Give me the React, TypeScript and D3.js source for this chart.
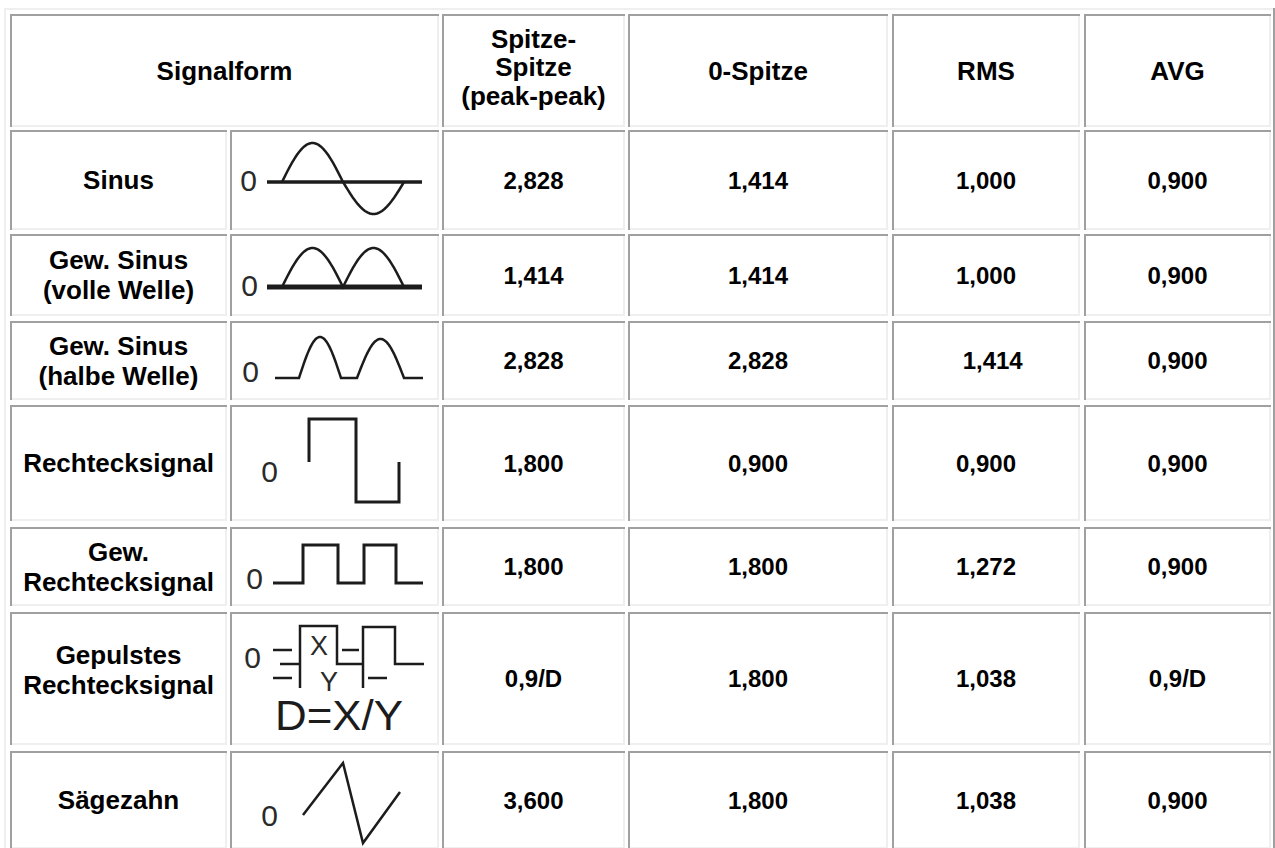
import React from "react";
import * as d3 from "d3";

// ---------- data ----------
const headerLabels = ["Signalform", "Spitze-\nSpitze\n(peak-peak)", "0-Spitze", "RMS", "AVG"];
const signalNames = [
  "Sinus",
  "Gew. Sinus\n(volle Welle)",
  "Gew. Sinus\n(halbe Welle)",
  "Rechtecksignal",
  "Gew.\nRechtecksignal",
  "Gepulstes\nRechtecksignal",
  "Sägezahn",
];
const peakPeak = ["2,828", "1,414", "2,828", "1,800", "1,800", "0,9/D", "3,600"];
const zeroPeak = ["1,414", "1,414", "2,828", "0,900", "1,800", "1,800", "1,800"];
const rmsValues = ["1,000", "1,000", "\u00a0\u00a01,414", "0,900", "1,272", "1,038", "1,038"];
const avgValues = ["0,900", "0,900", "0,900", "0,900", "0,900", "0,9/D", "0,900"];

// ---------- layout ----------
const W = 1275;
const H = 848;
const COLS: [number, number][] = [
  [10, 227], [230, 439], [442, 625], [628, 888], [892, 1080], [1084, 1271],
];
const ROWS: [number, number][] = [
  [14, 127], [130, 230], [234, 316], [321, 400], [405, 521], [527, 606], [612, 745], [751, 849],
];
const DARK = "#a0a0a0";
const LIGHT = "#efefef";
const FONT = "'Liberation Sans', Arial, Helvetica, sans-serif";
const INK = "#1c1c1c";

function Cell({ c }: { c: [number, number, number, number] }) {
  const [x0, y0, x1, y1] = c;
  const w = x1 - x0;
  const h = y1 - y0;
  return (
    <g>
      <rect x={x0} y={y0} width={w} height={h} fill="#fff" />
      <rect x={x0} y={y1 - 2} width={w} height={2} fill={LIGHT} />
      <rect x={x1 - 2} y={y0} width={2} height={h} fill={LIGHT} />
      <rect x={x0} y={y0} width={w} height={2} fill={DARK} />
      <rect x={x0} y={y0} width={2} height={h} fill={DARK} />
    </g>
  );
}

function Lines({ cx, cy, text, fs, lh, weight = "bold" }: { cx: number; cy: number; text: string; fs: number; lh: number; weight?: string }) {
  const lines = text.split("\n");
  const n = lines.length;
  return (
    <g>
      {lines.map((l, i) => (
        <text
          key={i}
          x={cx}
          y={cy + (i - (n - 1) / 2) * lh + 0.358 * fs}
          textAnchor="middle"
          fontFamily={FONT}
          fontSize={fs}
          fontWeight={weight}
          fill="#000"
          style={{ whiteSpace: "pre" }}
        >
          {l}
        </text>
      ))}
    </g>
  );
}

const line = d3.line<[number, number]>().x((d) => d[0]).y((d) => d[1]);
const ts = d3.range(0, 1.0001, 0.02);

function arch(a: number, b: number, base: number, h: number): [number, number][] {
  const sx = d3.scaleLinear().domain([0, 1]).range([a, b]);
  return ts.map((t) => [sx(t), base - h * Math.sin(Math.PI * t)] as [number, number]);
}

function Zero({ cx, base }: { cx: number; base: number }) {
  return (
    <text x={cx} y={base} textAnchor="middle" fontFamily={FONT} fontSize={30} fill="#2a2a2a">
      0
    </text>
  );
}

function IconSinus() {
  const sx = d3.scaleLinear().domain([0, 1]).range([282, 404]);
  const pts = ts.map((t) => {
    const s = Math.sin(2 * Math.PI * t);
    return [sx(t), 182 - (s >= 0 ? 39 : 32) * s] as [number, number];
  });
  return (
    <g>
      <Zero cx={248.5} base={191} />
      <line x1={267} x2={422} y1={182} y2={182} stroke={INK} strokeWidth={3.5} />
      <path d={line(pts)!} fill="none" stroke={INK} strokeWidth={2.5} />
    </g>
  );
}

function IconFull() {
  const sx = d3.scaleLinear().domain([0, 1]).range([282, 404]);
  const pts = ts.map((t) => [sx(t), 287 - 39 * Math.abs(Math.sin(2 * Math.PI * t))] as [number, number]);
  return (
    <g>
      <Zero cx={249.5} base={296} />
      <line x1={267} x2={422} y1={287} y2={287} stroke={INK} strokeWidth={5} />
      <path d={line(pts)!} fill="none" stroke={INK} strokeWidth={2.5} />
    </g>
  );
}

function IconHalf() {
  const pts: [number, number][] = [
    [275, 378],
    ...arch(299, 341, 378, 41),
    [357, 378],
    ...arch(357, 404, 378, 39),
    [423, 378],
  ];
  return (
    <g>
      <Zero cx={250.5} base={382} />
      <path d={line(pts)!} fill="none" stroke={INK} strokeWidth={2.5} />
    </g>
  );
}

function IconRect() {
  const pts: [number, number][] = [
    [309, 462], [309, 419], [356, 419], [356, 502], [399, 502], [399, 462],
  ];
  return (
    <g>
      <Zero cx={269.5} base={482} />
      <path d={line(pts)!} fill="none" stroke={INK} strokeWidth={3} />
    </g>
  );
}

function IconRectFull() {
  const pts: [number, number][] = [
    [273, 583], [303, 583], [303, 545], [338, 545], [338, 583], [364, 583], [364, 545], [396, 545], [396, 583], [423, 583],
  ];
  return (
    <g>
      <Zero cx={254.5} base={589} />
      <path d={line(pts)!} fill="none" stroke={INK} strokeWidth={3} />
    </g>
  );
}

function IconPulse() {
  const segs: [number, number][][] = [
    [[273, 650], [292, 650]],
    [[280, 664], [300, 664]],
    [[273, 678], [292, 678]],
    [[300, 688], [300, 626], [337, 626], [337, 664], [363, 664]],
    [[342, 650], [359, 650]],
    [[363, 688], [363, 627], [395, 627], [395, 664], [424, 664]],
    [[368, 678], [387, 678]],
  ];
  return (
    <g>
      <Zero cx={252.5} base={668} />
      {segs.map((s, i) => (
        <path key={i} d={line(s)!} fill="none" stroke={INK} strokeWidth={2.5} />
      ))}
      <text x={319} y={655} textAnchor="middle" fontFamily={FONT} fontSize={27} fill="#2a2a2a">X</text>
      <text x={329} y={691} textAnchor="middle" fontFamily={FONT} fontSize={27} fill="#2a2a2a">Y</text>
      <text x={275} y={730} fontFamily={FONT} fontSize={42} fill="#1c1c1c" textLength={128} lengthAdjust="spacingAndGlyphs">D=X/Y</text>
    </g>
  );
}

function IconSaw() {
  const pts: [number, number][] = [[303, 815], [343, 763], [363, 843], [400, 792]];
  return (
    <g>
      <Zero cx={269.5} base={826} />
      <path d={line(pts)!} fill="none" stroke={INK} strokeWidth={2.5} />
    </g>
  );
}

const icons = [IconSinus, IconFull, IconHalf, IconRect, IconRectFull, IconPulse, IconSaw];
const labelShift = [0, 0, 0, 0, 0, -9, 0];

export default function App() {
  const valueCols = [peakPeak, zeroPeak, rmsValues, avgValues];
  const colCenter = (i: number) => (COLS[i][0] + COLS[i][1]) / 2;
  const rowCenter = (j: number) => (ROWS[j][0] + ROWS[j][1]) / 2;

  return (
    <div style={{ position: "absolute", left: 0, top: 0 }}>
      <svg width={W} height={H} style={{ display: "block", background: "#fff" }}>
        {/* outer table border */}
        <rect x={4} y={8} width={W - 4} height={2} fill={LIGHT} />
        <rect x={4} y={8} width={2} height={H - 8} fill={LIGHT} />
        <rect x={1273} y={8} width={2} height={H - 8} fill={DARK} />

        {/* header */}
        <Cell c={[COLS[0][0], ROWS[0][0], COLS[1][1], ROWS[0][1]]} />
        <Lines cx={(COLS[0][0] + COLS[1][1]) / 2} cy={rowCenter(0)} text={headerLabels[0]} fs={26} lh={28.5} />
        {headerLabels.slice(1).map((h, k) => (
          <g key={h}>
            <Cell c={[COLS[k + 2][0], ROWS[0][0], COLS[k + 2][1], ROWS[0][1]]} />
            <Lines cx={colCenter(k + 2)} cy={k === 0 ? 67 : rowCenter(0)} text={h} fs={26} lh={28.5} />
          </g>
        ))}

        {/* body */}
        {signalNames.map((name, r) => {
          const j = r + 1;
          const Icon = icons[r];
          return (
            <g key={name}>
              {COLS.map((c, i) => (
                <Cell key={i} c={[c[0], ROWS[j][0], c[1], ROWS[j][1]]} />
              ))}
              <Lines cx={colCenter(0)} cy={rowCenter(j) + labelShift[r]} text={name} fs={26} lh={30} />
              <Icon />
              {valueCols.map((vals, k) => (
                <Lines key={k} cx={colCenter(k + 2)} cy={rowCenter(j)} text={vals[r]} fs={24} lh={28} />
              ))}
            </g>
          );
        })}
      </svg>
    </div>
  );
}
